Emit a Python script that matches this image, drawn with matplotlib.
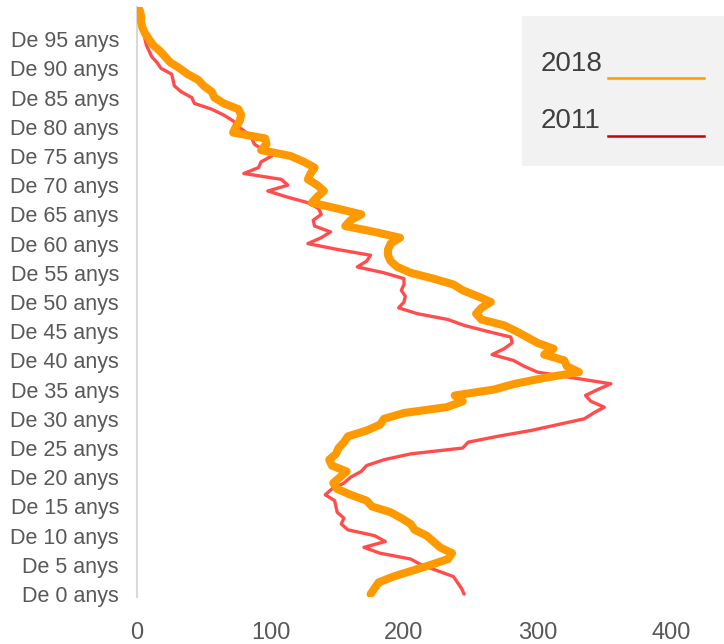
import matplotlib
matplotlib.use("Agg")
import matplotlib.pyplot as plt
from matplotlib.patches import Rectangle
from matplotlib.lines import Line2D

ages = list(range(0, 101))

pop_2018 = [175, 178, 181, 192, 206, 220, 233, 236, 227, 222,
            217, 208, 205, 198, 190, 176, 172, 160, 150, 147,
            152, 157, 146, 144, 149, 151, 155, 158, 172, 182,
            185, 200, 232, 244, 238, 267, 283, 305, 331, 322,
            320, 305, 312, 300, 292, 284, 275, 258, 254, 258,
            265, 255, 244, 237, 222, 205, 195, 190, 188, 188,
            190, 197, 178, 156, 160, 168, 150, 131, 135, 140,
            135, 128, 130, 133, 125, 115, 93, 97, 96, 72,
            74, 77, 78, 76, 65, 58, 56, 50, 46, 38,
            32, 25, 21, 17, 12, 9, 6, 4, 3, 3, 2]

pop_2011 = [245, 243, 240, 237, 225, 213, 205, 182, 170, 186,
            178, 158, 153, 155, 150, 149, 148, 141, 146, 155,
            160, 168, 172, 185, 205, 244, 248, 270, 295, 315,
            335, 342, 350, 340, 336, 345, 355, 327, 300, 290,
            282, 266, 275, 281, 280, 262, 245, 233, 210, 196,
            200, 201, 198, 200, 200, 185, 165, 172, 175, 150,
            128, 138, 145, 133, 132, 138, 136, 128, 112, 98,
            113, 108, 80, 91, 93, 101, 95, 88, 86, 82,
            76, 72, 65, 56, 43, 41, 33, 28, 27, 26,
            18, 15, 11, 9, 7, 6, 5, 4, 3, 2, 1]

tick_ages = list(range(0, 100, 5))
tick_labels = [f"De {a} anys" for a in tick_ages]
x_ticks = [0, 100, 200, 300, 400]
legend_labels = ["2018", "2011"]

FONT = ["Liberation Sans", "DejaVu Sans"]
plt.rcParams['font.family'] = FONT

fig = plt.figure(figsize=(7.24, 6.44), dpi=100)
ax = fig.add_axes([137/724, 1-597/644, (671-137)/724, (597-7)/644])

ax.plot(pop_2011, ages, color="#FF4D4D", lw=2.4, solid_joinstyle="round",
        solid_capstyle="round", zorder=2)
ax.plot(pop_2018, ages, color="#FF9900", lw=5.8, solid_joinstyle="round",
        solid_capstyle="round", zorder=3)

ax.set_xlim(0, 400)
ax.set_ylim(-0.5, 100.5)
ax.set_yticks(tick_ages)
ax.set_yticklabels(tick_labels)
ax.set_xticks(x_ticks)
ax.set_xticklabels([str(v) for v in x_ticks])
ax.tick_params(axis="both", length=0, colors="#595959")
ax.tick_params(axis="y", pad=13, labelsize=15.5)
ax.tick_params(axis="x", pad=18, labelsize=17)

for s in ["top", "right", "bottom"]:
    ax.spines[s].set_visible(False)
ax.spines["left"].set_color("#D9D9D9")
ax.spines["left"].set_linewidth(1.5)

# legend box
fig.patches.append(Rectangle((522/724, 1-166/644), (724-522)/724, 150/644,
                             transform=fig.transFigure, facecolor="#F2F2F2",
                             edgecolor="none", zorder=0))
fig.text(541/724, 1-64/644, legend_labels[0], fontsize=20, color="#404040",
         va="center", ha="left")
fig.text(541/724, 1-121/644, legend_labels[1], fontsize=20, color="#404040",
         va="center", ha="left")
fig.lines.append(Line2D([608/724, 704/724], [1-78/644, 1-78/644],
                        transform=fig.transFigure, color="#FF9900", lw=1.8))
fig.lines.append(Line2D([608/724, 704/724], [1-136/644, 1-136/644],
                        transform=fig.transFigure, color="#CC0000", lw=1.8))

fig.savefig("out.png", dpi=100)
